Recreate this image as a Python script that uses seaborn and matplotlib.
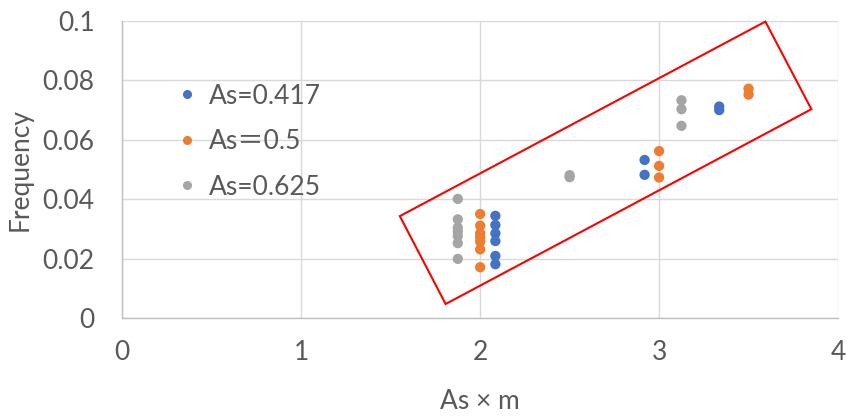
import matplotlib
matplotlib.use("Agg")
import matplotlib.pyplot as plt
from matplotlib.patches import Polygon
import seaborn as sns
import pandas as pd

# Series labels and colours
series_labels = ["As=0.417", "As\uff1d0.5", "As=0.625"]
series_colors = ["#4472C4", "#ED7D31", "#A5A5A5"]

# As = 0.417
x_417 = [2.085, 2.085, 2.085, 2.085, 2.085, 2.085, 2.919, 2.919, 3.336, 3.336]
y_417 = [0.0344, 0.0313, 0.0285, 0.0259, 0.0209, 0.0181, 0.0532, 0.0482, 0.0712, 0.0700]

# As = 0.5
x_500 = [2.0, 2.0, 2.0, 2.0, 2.0, 2.0, 2.0, 3.0, 3.0, 3.0, 3.5, 3.5]
y_500 = [0.0350, 0.0311, 0.0285, 0.0272, 0.0257, 0.0231, 0.0171, 0.0562, 0.0512, 0.0473, 0.0772, 0.0752]

# As = 0.625
x_625 = [1.875, 1.875, 1.875, 1.875, 1.875, 1.875, 1.875, 2.5, 2.5, 3.125, 3.125, 3.125]
y_625 = [0.0401, 0.0332, 0.0304, 0.0291, 0.0276, 0.0252, 0.0199, 0.0481, 0.0474, 0.0733, 0.0703, 0.0647]

x_ticks = [0, 1, 2, 3, 4]
y_ticks = [0, 0.02, 0.04, 0.06, 0.08, 0.1]
y_tick_labels = ["0", "0.02", "0.04", "0.06", "0.08", "0.1"]

# Highlight box corners (data coordinates)
box_x = [1.551, 3.594, 3.851, 1.807]
box_y = [0.0343, 0.0998, 0.0703, 0.0047]

df = pd.DataFrame({
    "x": x_417 + x_500 + x_625,
    "y": y_417 + y_500 + y_625,
    "series": [series_labels[0]] * len(x_417)
    + [series_labels[1]] * len(x_500)
    + [series_labels[2]] * len(x_625),
})

sns.set_theme(style="white")
fonts = ["Lato", "Noto Sans CJK SC", "DejaVu Sans"]
plt.rcParams["font.family"] = fonts
text_color = "#595959"

fig = plt.figure(figsize=(8.47, 4.19), dpi=100)
ax = fig.add_axes([0.1444, 0.2411, 0.9894 - 0.1444, 0.9499 - 0.2411])

sns.scatterplot(
    data=df, x="x", y="y", hue="series",
    hue_order=series_labels, palette=series_colors,
    s=55, linewidth=0, ax=ax, legend=False, zorder=3,
)

ax.set_xlim(0, 4)
ax.set_ylim(0, 0.1)
ax.set_xticks(x_ticks)
ax.set_xticklabels([str(t) for t in x_ticks])
ax.set_yticks(y_ticks)
ax.set_yticklabels(y_tick_labels)
ax.tick_params(axis="both", length=0, labelsize=19, colors=text_color)
ax.tick_params(axis="y", pad=20)
ax.tick_params(axis="x", pad=16)

ax.grid(True, color="#d9d9d9", linewidth=1)
ax.set_axisbelow(True)
for side in ["top", "right"]:
    ax.spines[side].set_visible(False)
for side in ["left", "bottom"]:
    ax.spines[side].set_color("#bfbfbf")
    ax.spines[side].set_linewidth(1)

ax.set_xlabel("As \u00d7 m", fontsize=19, color=text_color, labelpad=17)
ax.set_ylabel("Frequency", fontsize=19, color=text_color, labelpad=7)

# Legend
handles = [
    plt.Line2D([], [], marker="o", linestyle="", markersize=6.5,
               markerfacecolor=c, markeredgewidth=0)
    for c in series_colors
]
leg = ax.legend(
    handles, series_labels, loc="upper left", bbox_to_anchor=(0.057, 0.825),
    frameon=False, fontsize=19, handletextpad=0.35, labelspacing=0.78,
    handlelength=1.0, borderaxespad=0,
)
for t in leg.get_texts():
    t.set_color(text_color)

ax.add_patch(Polygon(list(zip(box_x, box_y)), closed=True, fill=False,
                     edgecolor="#FF0000", linewidth=1.5, zorder=4, clip_on=False))

fig.savefig("out.png", dpi=100)
